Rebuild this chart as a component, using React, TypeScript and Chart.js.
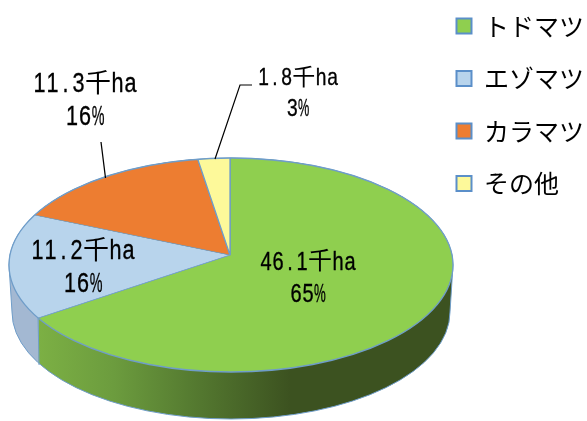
import React, { useEffect, useRef } from "react";
import { Chart, registerables } from "chart.js";

Chart.register(...registerables);

const categories = ["トドマツ", "エゾマツ", "カラマツ", "その他"];
const areas = [46.1, 11.2, 11.3, 1.8];
const sliceColors = ["#8fcf4f", "#b8d4ec", "#ed7d31", "#fdf99a"];
const edgeColor = "#6f9dc9";

// layout of the tilted pie
const APEX = { x: 230, y: 255 };
const TILT = 0.482;
const TOP = { x: 231, y: 265, rx: 222, ry: 107 };
const BASE = { x: 231, y: 312, rx: 219, ry: 107 };
// label placement per slice: centre x, two row centres, half-width cell, font size
const labelLayout = [
  { x: 308, y1: 261, y2: 293, unit: 12, size: 25 },
  { x: 83, y1: 250, y2: 283, unit: 13, size: 27 },
  { x: 85, y1: 83, y2: 116, unit: 13, size: 27 },
  { x: 298, y1: 77, y2: 108, unit: 11.5, size: 24 },
];
const leaders = [
  [[101, 142], [105.5, 178]],
  [[252, 85], [240, 85], [215, 159]],
];

function drawCellText(ctx: CanvasRenderingContext2D, text: string, cx: number, cy: number, unit: number, size: number) {
  const chars = Array.from(text);
  const isWide = (c: string) => c.charCodeAt(0) > 255;
  const total = chars.reduce((s, c) => s + (isWide(c) ? 2 : 1) * unit, 0);
  let x = cx - total / 2;
  ctx.fillStyle = "#000";
  ctx.strokeStyle = "#000";
  ctx.lineWidth = 0.35;
  ctx.textAlign = "center";
  ctx.textBaseline = "alphabetic";
  const base = cy + size * 0.345;
  for (const c of chars) {
    const w = (isWide(c) ? 2 : 1) * unit;
    ctx.save();
    ctx.translate(x + w / 2, base);
    if (isWide(c)) {
      ctx.font = `${w}px "Noto Sans CJK JP"`;
      ctx.fillText(c, 0, -1 + w * 0.03);
    } else {
      ctx.font = `${size}px "Liberation Sans"`;
      const m = ctx.measureText(c).width;
      ctx.scale(Math.min(0.8, (unit * 0.98) / m), 1);
      ctx.fillText(c, 0, 0);
      ctx.strokeText(c, 0, 0);
    }
    ctx.restore();
    x += w;
  }
}

const tiltedPie = {
  id: "tiltedPie",
  beforeDatasetsDraw(chart: any) {
    const ctx: CanvasRenderingContext2D = chart.ctx;
    const arcs = chart.getDatasetMeta(0).data;

    // where the end of the first slice meets the rim of the top ellipse
    const a = arcs[0].endAngle;
    const dx = Math.cos(a);
    const dy = Math.sin(a) * TILT;
    let t = 0;
    while (
      ((APEX.x + dx * t - TOP.x) / TOP.rx) ** 2 + ((APEX.y + dy * t - TOP.y) / TOP.ry) ** 2 < 1 &&
      t < 400
    ) t += 0.25;
    const seamX = APEX.x + dx * t;
    const seamY = APEX.y + dy * t;

    // side wall
    const wall = () => {
      ctx.beginPath();
      ctx.moveTo(TOP.x - TOP.rx, TOP.y);
      ctx.lineTo(BASE.x - BASE.rx, BASE.y);
      ctx.ellipse(BASE.x, BASE.y, BASE.rx, BASE.ry, 0, Math.PI, 0, true);
      ctx.lineTo(TOP.x + TOP.rx, TOP.y);
      ctx.ellipse(TOP.x, TOP.y, TOP.rx, TOP.ry, 0, 0, Math.PI, true);
      ctx.closePath();
    };
    ctx.save();
    wall();
    ctx.clip();
    const g = ctx.createLinearGradient(seamX, 0, 290, 0);
    g.addColorStop(0, "#7cb044");
    g.addColorStop(0.3, "#6c9c3e");
    g.addColorStop(0.6, "#567c31");
    g.addColorStop(1, "#3c5220");
    ctx.fillStyle = g;
    ctx.fillRect(seamX, 0, 587, 421);
    ctx.fillStyle = "#a3b8d2";
    ctx.fillRect(0, 0, seamX + 0.5, 421);
    ctx.restore();
    wall();
    ctx.strokeStyle = edgeColor;
    ctx.lineWidth = 1;
    ctx.stroke();
    ctx.beginPath();
    ctx.moveTo(seamX, seamY);
    ctx.lineTo(seamX + 1, seamY + BASE.y - TOP.y);
    ctx.stroke();

    // top face: the library's own arcs, squashed and cut to the rim
    ctx.save();
    ctx.beginPath();
    ctx.ellipse(TOP.x, TOP.y, TOP.rx, TOP.ry, 0, 0, Math.PI * 2);
    ctx.clip();
    ctx.translate(APEX.x, APEX.y);
    ctx.scale(1, TILT);
    ctx.translate(-arcs[0].x, -arcs[0].y);
    arcs.forEach((arc: any) => arc.draw(ctx));
    ctx.restore();

    ctx.beginPath();
    ctx.ellipse(TOP.x, TOP.y, TOP.rx, TOP.ry, 0, 0, Math.PI * 2);
    ctx.strokeStyle = edgeColor;
    ctx.lineWidth = 1.3;
    ctx.stroke();
    return false;
  },
  afterDraw(chart: any) {
    const ctx: CanvasRenderingContext2D = chart.ctx;
    const total = areas.reduce((s, v) => s + v, 0);
    ctx.save();
    ctx.strokeStyle = "#000";
    ctx.lineWidth = 1.2;
    leaders.forEach((pts) => {
      ctx.beginPath();
      pts.forEach(([x, y], i) => (i ? ctx.lineTo(x, y) : ctx.moveTo(x, y)));
      ctx.stroke();
    });
    areas.forEach((v, i) => {
      const l = labelLayout[i];
      drawCellText(ctx, `${v.toFixed(1)}千ha`, l.x, l.y1, l.unit, l.size);
      drawCellText(ctx, `${Math.round((v / total) * 100)}%`, l.x, l.y2, l.unit, l.size);
    });
    ctx.restore();
  },
};

export default function App() {
  const ref = useRef<HTMLCanvasElement>(null);
  useEffect(() => {
    const chart = new Chart(ref.current!, {
      type: "pie",
      data: {
        labels: categories,
        datasets: [
          {
            data: areas,
            backgroundColor: sliceColors,
            borderColor: edgeColor,
            borderWidth: 1.3,
          },
        ],
      },
      options: {
        responsive: false,
        animation: false,
        radius: 280,
        layout: { padding: { top: -14, right: -7 } },
        plugins: {
          tooltip: { enabled: false },
          legend: {
            position: "right",
            align: "start",
            labels: {
              boxWidth: 15,
              boxHeight: 15,
              padding: 27.5,
              color: "#000",
              font: { family: '"Noto Sans CJK JP"', size: 25 },
              generateLabels: (c: any) =>
                c.data.labels.map((text: string, i: number) => ({
                  text,
                  fillStyle: sliceColors[i],
                  strokeStyle: "#5b8fc9",
                  lineWidth: 2,
                  index: i,
                })),
            },
          },
        },
      } as any,
      plugins: [tiltedPie as any],
    });
    return () => chart.destroy();
  }, []);
  return (
    <div style={{ position: "absolute", left: 0, top: 0, width: 587, height: 421, background: "#fff" }}>
      <canvas ref={ref} width={587} height={421} style={{ display: "block" }} />
    </div>
  );
}
